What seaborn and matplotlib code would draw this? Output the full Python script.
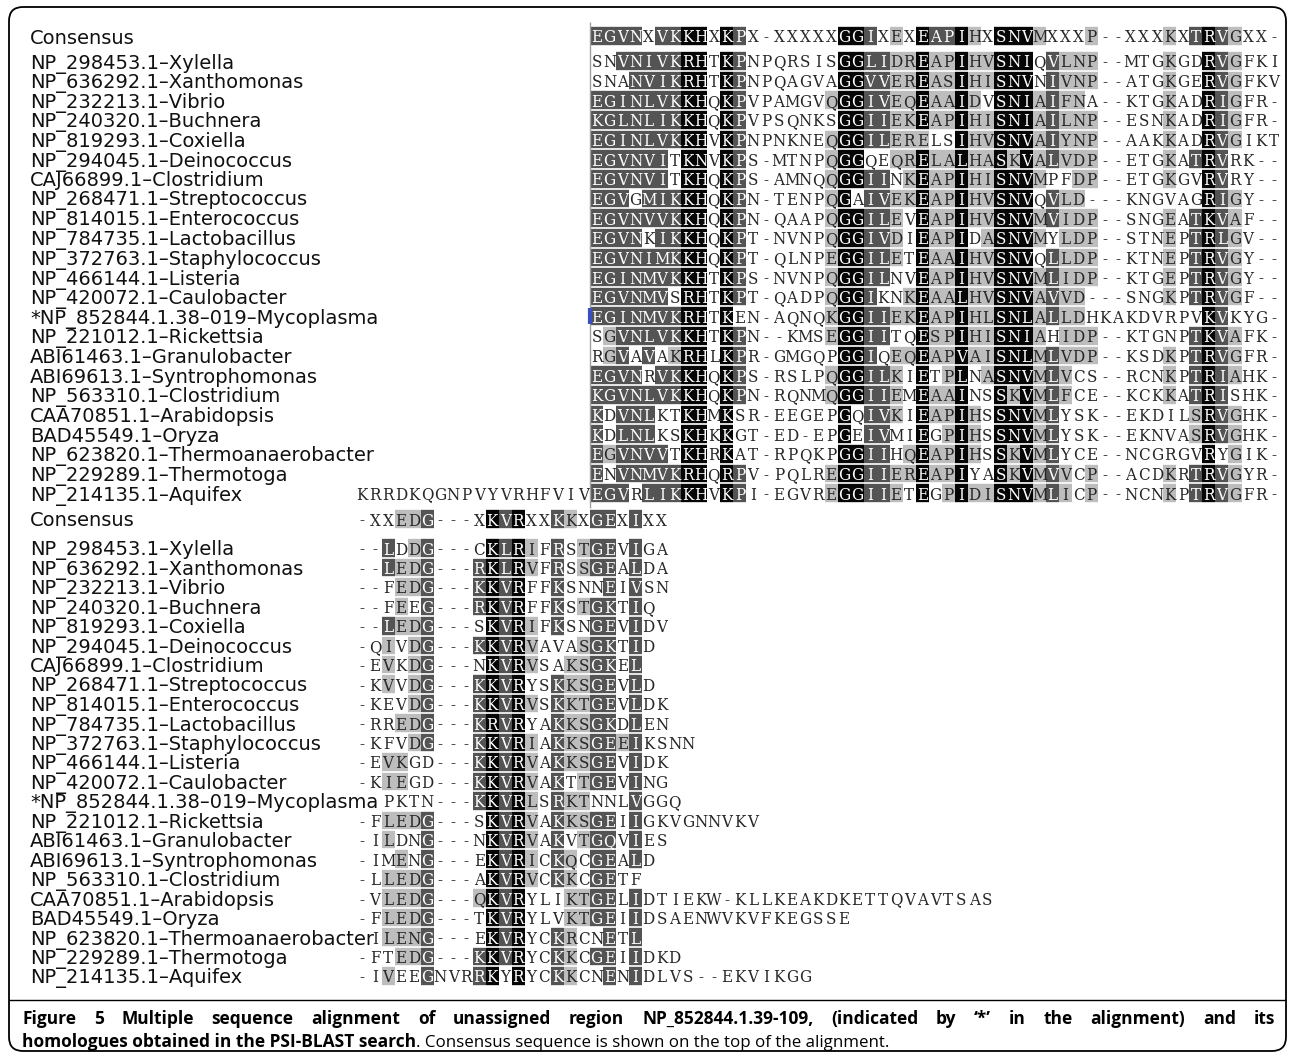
import numpy as np
import matplotlib
matplotlib.use("Agg")
import matplotlib.pyplot as plt
from matplotlib.colors import ListedColormap
from matplotlib.patches import FancyBboxPatch
import seaborn as sns

sns.set_theme(style="white")
plt.rcParams['font.family'] = ['DejaVu Sans']

# ---- data -------------------------------------------------------------
names = ["NP_298453.1–Xylella", "NP_636292.1–Xanthomonas", "NP_232213.1–Vibrio",
         "NP_240320.1–Buchnera", "NP_819293.1–Coxiella", "NP_294045.1–Deinococcus",
         "CAJ66899.1–Clostridium", "NP_268471.1–Streptococcus", "NP_814015.1–Enterococcus",
         "NP_784735.1–Lactobacillus", "NP_372763.1–Staphylococcus", "NP_466144.1–Listeria",
         "NP_420072.1–Caulobacter", "*NP_852844.1.38–019–Mycoplasma", "NP_221012.1–Rickettsia",
         "ABI61463.1–Granulobacter", "ABI69613.1–Syntrophomonas", "NP_563310.1–Clostridium",
         "CAA70851.1–Arabidopsis", "BAD45549.1–Oryza", "NP_623820.1–Thermoanaerobacter",
         "NP_229289.1–Thermotoga", "NP_214135.1–Aquifex"]

# shading codes: '.' none, 'l' light grey, 'd' dark grey, 'b' black
top_consensus = "EGVNXVKKHXKPX-XXXXXGGIXEXEAPIHXSNVMXXXP--XXXKXTRVGXX-"
top_consensus_shade = "dddd.ddbb. bd.......b bd.l.bddbl .bbbl...l. ....l.dbdl ..."
aquifex_prefix = "KRRDKQGNPVYVRHFVIV"

top_seqs = [
    "SNVNIVKRHTKPNPQRSISGGLIDREAPIHVSNIQVLNP--MTGKGDRVGFKI",
    "SNANVIKRHTKPNPQAGVAGGVVEREASIHISNVNIVNP--ATGKGERVGFKV",
    "EGINLVKKHQKPVPAMGVQGGIVEQEAAIDVSNIAIFNA--KTGKADRIGFR-",
    "KGLNLIKKHQKPVPSQNKSGGIIEKEAPIHISNIAILNP--ESNKADRIGFR-",
    "EGINLVKKHVKPNPNKNEQGGILERELSIHVSNVAIYNP--AAKKADRVGIKT",
    "EGVNVITKNVKPS-MTNPQGGQEQRELALHASKVALVDP--ETGKATRVRK--",
    "EGVNVITKHQKPS-AMNQQGGIINKEAPIHISNVMPFDP--ETGKGVRVRY--",
    "EGVGMIKKHQKPN-TENPQGAIVEKEAPIHVSNVQVLD---KNGVAGRIGY--",
    "EGVNVVKKHQKPN-QAAPQGGILEVEAPIHVSNVMVIDP--SNGEATKVAF--",
    "EGVNKIKKHQKPT-NVNPQGGIVDIEAPIDASNVMYLDP--STNEPTRLGV--",
    "EGVNIMKKHQKPT-QLNPEGGILETEAAIHVSNVQLLDP--KTNEPTRVGY--",
    "EGINMVKKHTKPS-NVNPQGGILNVEAPIHVSNVMLIDP--KTGEPTRVGY--",
    "EGVNMVSRHTKPT-QADPQGGIKNKEAALHVSNVAVVD---SNGKPTRVGF--",
    "EGINMVKRHTKEN-AQNQKGGIIEKEAPIHLSNLALLDHKAKDVRPVKVKYG-",
    "SGVNLVKKHTKPN--KMSEGGIITQESPIHISNIAHIDP--KTGNPTKVAFK-",
    "RGVAVAKRHLKPR-GMGQPGGIQEQEAPVAISNLMLVDP--KSDKPTRVGFR-",
    "EGVNRVKKHQKPS-RSLPQGGILKIETPLNASNVMLVCS--RCNKPTRIAHK-",
    "KGVNLVKKHQKPN-RQNMQGGIIEMEAAINSSKVMLFCE--KCKKATRISHK-",
    "KDVNLKTKHMKSR-EEGEPGQIVKIEAPIHSSNVMLYSK--EKDILSRVGHK-",
    "KDLNLKSKHKKGT-ED-EPGEIVMIEGPIHSSNVMLYSK--EKNVASRVGHK-",
    "EGVNVVTKHRKAT-RPQKPGGIIHQEAPIHSSKVMLYCE--NCGRGVRYGIK-",
    "ENVNMVKRHQRPV-PQLREGGIIEREAPIYASKVMVVCP--ACDKRTRVGYR-",
    "EGVRLIKKHVKPI-EGVREGGIIETEGPIDISNVMLICP--NCNKPTRVGFR-",
]
top_shades = [
    "..dddddbb. bd.......b bddllbllbl lbbb.dlll. ....l..bdl ...",
    "...ddddbb. bd.......b bddllbllbl lbbb.dlll. ....l..bdl ...",
    "dddddddbb. bd......lb bddllbllbl .bbbldll.. ....l..bdl ...",
    "dddddddbb. bd.......b bddllbllbl lbbbldlll. ....l..bdl ...",
    "dddddddbb. bd......lb bddlll..bl lbbbldlll. ....l..bdl ...",
    "dddddd.bb. bd......lb b..llbllbl lblbldlll. ....l.dbd. ...",
    "dddddd.bb. bd......lb bdd.lbllbl lbbbl..ll. ....l..bd. ...",
    "ddd.dddbb. bd......lb .ddllbllbl lbbb.dll.. .......bdl ...",
    "dddddddbb. bd......lb bddl.bllbl lbbbldlll. ....l.dbdl ...",
    "dddd.ddbb. bd......lb bddl.bllb. lbbbl.lll. ....l.dbdl ...",
    "dddddddbb. bd......lb bddl.bllbl lbbb.dlll. ....l.dbdl ...",
    "dddddddbb. bd......lb bdd..bllbl lbbbldlll. ....l.dbdl ...",
    "dddddd.bb. bd......lb bd..lbllbl lbbbldll.. ....l.dbdl ...",
    "dddddddbb. b.......lb bddllbllbl lbbbldll.. .......bd. ...",
    ".ldddddbb. bd......lb bdd..bllbl lbbbl.lll. ......dbdl ...",
    ".ld.d.lbb. bd.......b bd.llbllbl lbbbldlll. ....l.dbdl ...",
    "dddd.ddbb. bd......lb bddl.b.lb. lbbbldl... ....l.dbdl ...",
    "dddddddbb. bd......lb bddl.bllb. .blbldl... ....l.dbd. ...",
    "d.ddd..bb. b........b .ddl.bllbl .bbbld.... ......lbdl ...",
    "d.ddd..bb. b........b .dd..b.lbl .bbbld.... ......lbdl ...",
    "dldddd.bb. b........b bdd.lbllbl .blbld.... .......b.l ...",
    "d.dddddbb. bd......lb bddllbllb. .blbldl.l. ....l.dbdl ...",
    "ddd.dddbb. bd......lb bddl.b.lbl lbbbldl.l. ....l.dbdl ...",
]

bottom_consensus = "-XXEDG---XKVRXXKKXGEXIXX"
bottom_consensus_shade = "...lld.... bdb..dl.dd .d.."

bottom_seqs = [
    "--LDDG---CKLRIFRSTGEVIGA",
    "--LEDG---RKLRVFRSSGEALDA",
    "--FEDG---KKVRFFKSNNEIVSN",
    "--FEEG---RKVRFFKSTGKTIQ",
    "--LEDG---SKVRIFKSNGEVIDV",
    "-QIVDG---KKVRVAVASGKTID",
    "-EVKDG---NKVRVSAKSGKEL",
    "-KVVDG---KKVRYSKKSGEVLD",
    "-KEVDG---KKVRVSKKTGEVLDK",
    "-RREDG---KRVRYAKKSGKDLEN",
    "-KFVDG---KKVRIAKKSGEEIKSNN",
    "-EVKGD---KKVRVAKKSGEVIDK",
    "-KIEGD---KKVRVAKTTGEVING",
    "  PKTN---KKVRLSRKTNNLVGGQ",
    "-FLEDG---SKVRVAKKSGEIIGKVGNNVKV",
    "-ILDNG---NKVRVAKVTGQVIES",
    "-IMENG---EKVRICKQCGEALD",
    "-LLEDG---AKVRVCKKCGETF",
    "-VLEDG---QKVRYLIKTGELIDTIEKW-KLLKEAKDKETTQVAVTSAS",
    "-FLEDG---TKVRYLVKTGEIIDSAENWVKVFKEGSSE",
    " ILENG---EKVRYCKRCNETL",
    "-FTEDG---KKVRYCKKCGEIIDKD",
    "-IVEEGNVRRKYRYCKKCNENIDLVS--EKVIKGG",
]
bottom_shades = [
    "..d.ld.... bdbl.d.ldd .d..",
    "..dlld...d bdbl.d.ldd .d..",
    "...lld...d bdb..d...d .d..",
    "...l.d...d bdb..d.ldd .d.",
    "..dlld.... bdbl.d..dd .d..",
    "..l.ld...d bdbl...ldd .d.",
    "..l.ld.... bdbl..lldd .d",
    "..l.ld...d bdb..dlldd .d.",
    "....ld...d bdbl.dlldd .d..",
    "...lld...d bdb..dlldd .d..",
    "....ld...d bdbl.dlldd ld....",
    "..ll.....d bdbl.dlldd .d..",
    "..ll.....d bdbl.d.ldd .d..",
    ".........d bdbl.dll.. .d...",
    "..llld.... bdbl.dlldd .d.",
    "..l..d.... bdbl.d.ldd .d..",
    "...l.d.... bdbl.dl.dd .d.",
    "..llld.... bdbl.dl.dd ..",
    "..llld...l bdb...lldd .d",
    "..llld.... bdb...lldd .d",
    "..llld.... bdb..dl..d .d",
    "...lld...d bdb..dl.dd .d...",
    "..l..d...d b.b..dl..d .d",
]

# ---- layout (pixels) ---------------------------------------------------
W, H = 1295, 1060
CW = 13.03            # column width
X_TOP = 590.0         # first alignment column of the top block
PRE = len(aquifex_prefix)
X_LEFT = X_TOP - PRE * CW
RH_TOP, RH_BOT = 19.64, 19.45
levels = {'.': 0, 'l': 1, 'd': 2, 'b': 3}
cmap = ListedColormap(["#ffffff", "#bdbdbd", "#545454", "#050505"])


def build(seqs, shades, ncols, offsets):
    codes = np.zeros((len(seqs), ncols))
    annot = np.full((len(seqs), ncols), "", dtype=object)
    for i, (s, sh) in enumerate(zip(seqs, shades)):
        sh = sh.replace(" ", "").ljust(len(s), ".")[:len(s)]
        for j, (c, k) in enumerate(zip(s, sh)):
            if c != " ":
                annot[i, offsets[i] + j] = c
                codes[i, offsets[i] + j] = levels[k]
    return codes, annot


def block(fig, codes, annot, x0, yc0, rh):
    nr, nc = codes.shape
    ytop = yc0 - rh / 2
    ax = fig.add_axes([x0 / W, 1 - (ytop + nr * rh) / H, nc * CW / W, nr * rh / H])
    sns.heatmap(codes, cmap=cmap, vmin=-0.5, vmax=3.5, annot=annot, fmt="",
                cbar=False, xticklabels=False, yticklabels=False, ax=ax,
                annot_kws={"fontsize": 12.2, "family": "DejaVu Serif",
                           "fontstretch": "condensed", "va": "center_baseline"})
    ax.hlines(np.arange(nr + 1), 0, nc, colors="white", linewidth=1.2)
    ax.set_axis_off()
    return ax


fig = plt.figure(figsize=(W / 100, H / 100), dpi=100)

# top block
c, a = build([top_consensus], [top_consensus_shade], 53, [0])
block(fig, c, a, X_TOP, 36, RH_TOP)
top_full = top_seqs[:-1] + [aquifex_prefix + top_seqs[-1]]
top_full_sh = top_shades[:-1] + ["." * PRE + top_shades[-1].replace(" ", "")]
offs = [PRE] * (len(top_seqs) - 1) + [0]
c, a = build(top_full, top_full_sh, PRE + 53, offs)
block(fig, c, a, X_LEFT, 61, RH_TOP)

# bottom block
nb = max(len(s) for s in bottom_seqs)
c, a = build([bottom_consensus], [bottom_consensus_shade], nb, [0])
block(fig, c, a, X_LEFT, 519, RH_BOT)
c, a = build(bottom_seqs, bottom_shades, nb, [0] * len(bottom_seqs))
block(fig, c, a, X_LEFT, 548, RH_BOT)

# overlay axis for labels, frame and caption
ax = fig.add_axes([0, 0, 1, 1])
ax.set_zorder(5)
ax.patch.set_alpha(0)
ax.set_xlim(0, W)
ax.set_ylim(H, 0)
ax.set_axis_off()

lab_kw = dict(fontsize=14, va="center_baseline", ha="left", color="#111111")
ax.text(30, 36, "Consensus", **lab_kw)
ax.text(30, 519, "Consensus", **lab_kw)
for i, n in enumerate(names):
    ax.text(30, 61 + i * RH_TOP, n, **lab_kw)
    ax.text(30, 548 + i * RH_BOT, n, **lab_kw)

ax.vlines(X_TOP, 22, 508, colors="#a0a0a0", linewidth=1.0)
ax.vlines(X_TOP, 61 + 13 * RH_TOP - 8, 61 + 13 * RH_TOP + 8, colors="#3a4fc0", linewidth=3)

ax.add_patch(FancyBboxPatch((9, 7), 1277, 1044, boxstyle="round,pad=0,rounding_size=14",
                            fill=False, ec="black", lw=1.3))
ax.hlines(1000, 9, 1286, colors="black", linewidth=1.0)

# caption
cap_kw = dict(fontsize=12.5, family="Open Sans", va="baseline", color="black")
words = ("Figure 5 Multiple sequence alignment of unassigned region NP_852844.1.39-109, "
         "(indicated by \u2018*\u2019 in the alignment) and its").split()
texts = [ax.text(0, 1024, w, fontweight="bold", **cap_kw) for w in words]
r = fig.canvas.get_renderer()
widths = [t.get_window_extent(r).width for t in texts]
gap = (1275 - 22 - sum(widths)) / (len(words) - 1)
x = 22
for t, w in zip(texts, widths):
    t.set_x(x)
    x += w + gap

t1 = ax.text(22, 1047, "homologues obtained in the PSI-BLAST search", fontweight="bold", **cap_kw)
w1 = t1.get_window_extent(r).width
ax.text(22 + w1, 1047, ". Consensus sequence is shown on the top of the alignment.",
        fontsize=12.2, family="Open Sans", va="baseline", color="black")

fig.savefig("out.png", dpi=100)
